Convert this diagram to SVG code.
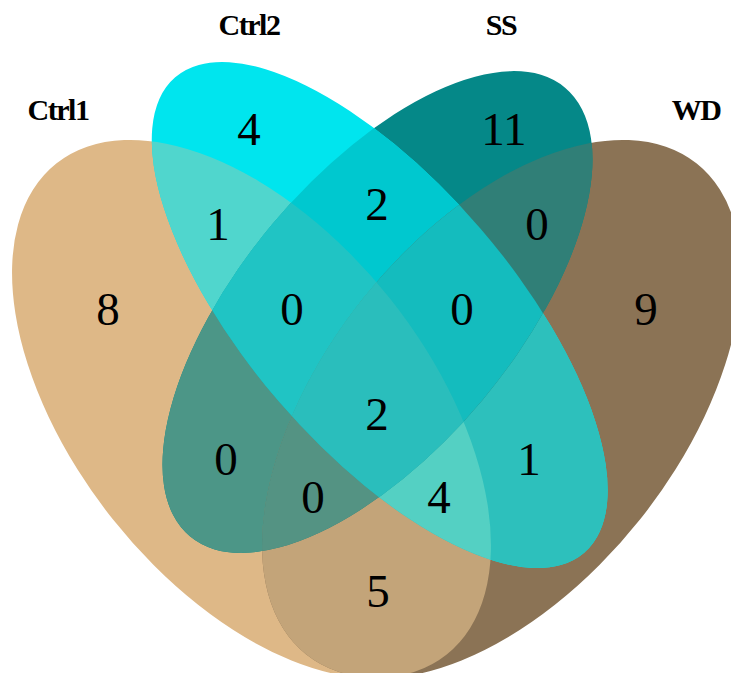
<svg xmlns="http://www.w3.org/2000/svg" xmlns:xlink="http://www.w3.org/1999/xlink" width="731" height="673" viewBox="0 0 731 673">
  <style>
    .n { font-family: "Liberation Serif", "Times New Roman", serif; font-size: 47px; text-anchor: middle; fill: #000; }
    .lab { font-family: "Liberation Serif", "Times New Roman", serif; font-weight: bold; font-size: 30px; text-anchor: middle; fill: #000; letter-spacing: -1.5px; }
  </style>
  <defs>
    <!-- the four set ellipses -->
    <ellipse id="e-ctrl1" cx="251.5" cy="409" rx="313.6" ry="177.2" transform="rotate(51.5 251.5 409)"/>
    <ellipse id="e-ctrl2" cx="379.7" cy="315" rx="313.6" ry="132.8" transform="rotate(49.3 379.7 315)"/>
    <ellipse id="e-ss" cx="377.5" cy="312" rx="292.4" ry="137" transform="rotate(-50.1 377.5 312)"/>
    <ellipse id="e-wd" cx="501.5" cy="409" rx="313.6" ry="177.2" transform="rotate(-51.5 501.5 409)"/>
    <clipPath id="c-ctrl1"><use xlink:href="#e-ctrl1"/></clipPath>
    <clipPath id="c-ctrl2"><use xlink:href="#e-ctrl2"/></clipPath>
    <clipPath id="c-ss"><use xlink:href="#e-ss"/></clipPath>
    <clipPath id="c-wd"><use xlink:href="#e-wd"/></clipPath>
  </defs>

  <rect width="731" height="673" fill="#fff"/>

  <!-- single sets -->
  <g id="sets">
    <use id="set-ctrl1" xlink:href="#e-ctrl1" fill="#DEB887"/>
    <use id="set-wd" xlink:href="#e-wd" fill="#8B7355"/>
    <use id="set-ss" xlink:href="#e-ss" fill="#058888"/>
    <use id="set-ctrl2" xlink:href="#e-ctrl2" fill="#00E5EE"/>
  </g>

  <!-- pairwise overlaps -->
  <g id="overlaps-2">
    <g clip-path="url(#c-ctrl1)"><use xlink:href="#e-ctrl2" fill="#50D6CD"/></g>
    <g clip-path="url(#c-ctrl1)"><use xlink:href="#e-ss" fill="#4C9687"/></g>
    <g clip-path="url(#c-ctrl1)"><use xlink:href="#e-wd" fill="#C3A479"/></g>
    <g clip-path="url(#c-ctrl2)"><use xlink:href="#e-ss" fill="#00C8CF"/></g>
    <g clip-path="url(#c-ctrl2)"><use xlink:href="#e-wd" fill="#2DC0BC"/></g>
    <g clip-path="url(#c-ss)"><use xlink:href="#e-wd" fill="#307F77"/></g>
  </g>

  <!-- triple overlaps -->
  <g id="overlaps-3">
    <g clip-path="url(#c-ctrl1)"><g clip-path="url(#c-ctrl2)"><use xlink:href="#e-ss" fill="#20C4C4"/></g></g>
    <g clip-path="url(#c-ctrl1)"><g clip-path="url(#c-ctrl2)"><use xlink:href="#e-wd" fill="#54D0C3"/></g></g>
    <g clip-path="url(#c-ctrl1)"><g clip-path="url(#c-ss)"><use xlink:href="#e-wd" fill="#549383"/></g></g>
    <g clip-path="url(#c-ctrl2)"><g clip-path="url(#c-ss)"><use xlink:href="#e-wd" fill="#14BCBE"/></g></g>
  </g>

  <!-- all four -->
  <g id="overlap-4">
    <g clip-path="url(#c-ctrl1)"><g clip-path="url(#c-ctrl2)"><g clip-path="url(#c-ss)"><use xlink:href="#e-wd" fill="#2ABEBC"/></g></g></g>
  </g>

  <!-- region counts -->
  <g id="counts">
    <text class="n" x="108" y="325">8</text>
    <text class="n" x="249" y="145">4</text>
    <text class="n" x="504" y="145">11</text>
    <text class="n" x="646" y="325">9</text>
    <text class="n" x="218" y="240">1</text>
    <text class="n" x="377" y="220">2</text>
    <text class="n" x="537" y="240">0</text>
    <text class="n" x="292" y="325">0</text>
    <text class="n" x="462" y="325">0</text>
    <text class="n" x="377" y="430">2</text>
    <text class="n" x="226" y="475">0</text>
    <text class="n" x="529" y="475">1</text>
    <text class="n" x="313" y="513">0</text>
    <text class="n" x="439" y="513">4</text>
    <text class="n" x="378" y="607">5</text>
  </g>

  <!-- set names -->
  <g id="labels">
    <text class="lab" x="58" y="120">Ctrl1</text>
    <text class="lab" x="249" y="35">Ctrl2</text>
    <text class="lab" x="501" y="35">SS</text>
    <text class="lab" x="696" y="120">WD</text>
  </g>
</svg>
